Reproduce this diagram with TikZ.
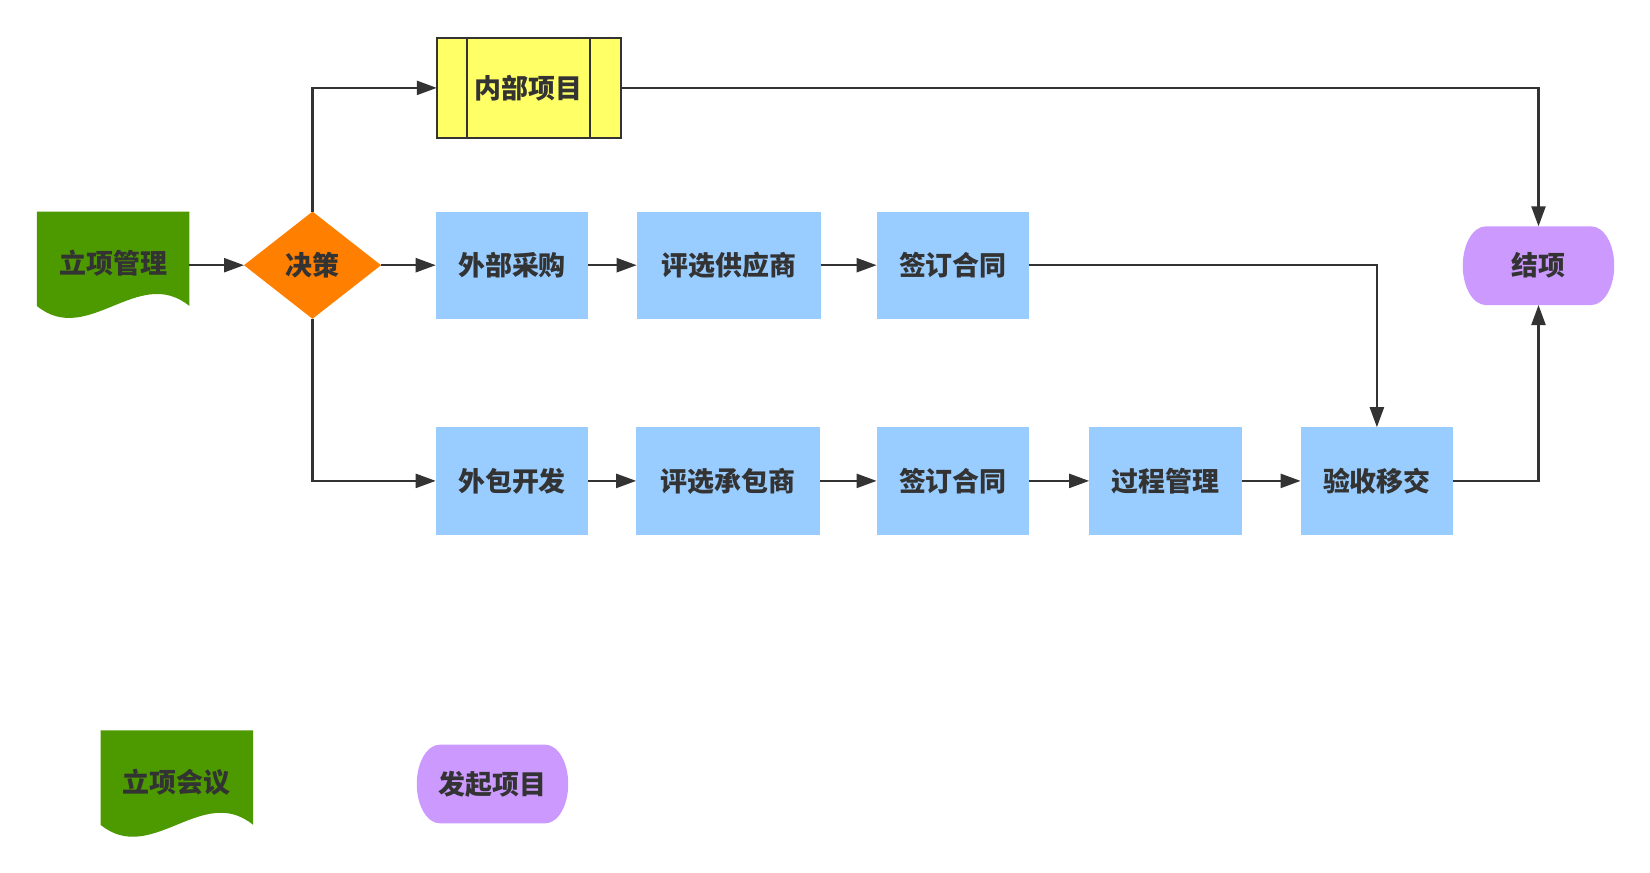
\documentclass[tikz,border=0pt]{standalone}
\usepackage{fontspec}
\newfontfamily\cjk{Noto Sans CJK SC}
\usetikzlibrary{arrows.meta,shapes.geometric,calc,backgrounds}
\definecolor{txt}{HTML}{333333}
\definecolor{docgreen}{HTML}{4D9900}
\definecolor{dorange}{HTML}{FF8000}
\definecolor{lblue}{HTML}{99CCFF}
\definecolor{lyellow}{HTML}{FFFF66}
\definecolor{lpurple}{HTML}{CC99FF}
\definecolor{edgec}{HTML}{333333}
\tikzset{
 base/.style={inner sep=0pt, outer sep=0pt, font=\cjk\bfseries\fontsize{20.2pt}{24pt}\selectfont, text=txt},
 procbox/.style={base, fill=lblue, minimum width=114.4pt, minimum height=80.5pt},
 widebox/.style={procbox, minimum width=138pt},
 docnode/.style={base, minimum width=114.4pt, minimum height=80.5pt},
 decision/.style={base, diamond, fill=dorange, minimum width=102.75pt, minimum height=80.4pt},
 subproc/.style={base, draw=edgec, line width=1.7pt, fill=lyellow, minimum width=138pt, minimum height=75pt},
 termnode/.style={base, minimum width=113.6pt, minimum height=59pt},
 conn/.style={draw=edgec, line width=1.7pt, -{Triangle[length=15pt,width=10.5pt]}},
 plainline/.style={draw=edgec, line width=1.7pt},
}
\newcommand\stadiumfill[2]{%
 \fill[#2] ($(#1.north west)+(23,0)$) -- ($(#1.north east)+(-23,0)$)
   arc[start angle=90,end angle=-90,x radius=17.25pt,y radius=29.5pt]
   -- ($(#1.south west)+(23,0)$)
   arc[start angle=270,end angle=90,x radius=17.25pt,y radius=29.5pt] -- cycle;}
\newcommand\docfill[1]{%
 \fill[docgreen] (#1.north west) -- (#1.north east) -- ($(#1.south east)+(0,-12.9)$)
   .. controls ($(#1.south east)+(-50.9,-54.4)$) and ($(#1.south west)+(50.9,28.6)$) ..
   ($(#1.south west)+(0,-12.9)$) -- cycle;}
\begin{document}
\begin{tikzpicture}[x=0.75pt,y=-0.75pt]
\useasboundingbox (0,0) rectangle (1650,873);
% nodes
\node[docnode] (doc1) at (113.1,265.2) {\raisebox{5.5pt}{立项管理}};
\node[decision] (dia) at (312.5,265.2) {决策};
\node[procbox] (wbcg) at (512,265.2) {外部采购};
\node[widebox] (pxgys) at (728.7,265.2) {评选供应商};
\node[procbox] (qdht1) at (952.9,265.2) {签订合同};
\node[termnode] (jx) at (1538.5,265.7) {结项};
\node[subproc] (nbxm) at (528.8,87.9) {内部项目};
\node[procbox] (wbkf) at (512,480.9) {外包开发};
\node[widebox] (pxcbs) at (728.2,480.9) {评选承包商};
\node[procbox] (qdht2) at (952.9,480.9) {签订合同};
\node[procbox] (gcgl) at (1165.4,480.9) {过程管理};
\node[procbox] (ysyj) at (1376.9,480.9) {验收移交};
\node[docnode] (doc2) at (176.8,784) {\raisebox{5.5pt}{立项会议}};
\node[termnode] (fqxm) at (492.5,784) {发起项目};
% backgrounds of custom shapes
\begin{scope}[on background layer]
 \fill[white] (0,0) rectangle (1650,873);
 \docfill{doc1}
 \docfill{doc2}
 \stadiumfill{jx}{lpurple}
 \stadiumfill{fqxm}{lpurple}
\end{scope}
% inner lines of subprocess
\draw[plainline] ($(nbxm.north west)+(30.5,0)$) -- ($(nbxm.south west)+(30.5,0)$);
\draw[plainline] ($(nbxm.north east)+(-30.5,0)$) -- ($(nbxm.south east)+(-30.5,0)$);
% connectors
\draw[conn] (doc1.east) -- (dia.west);
\draw[conn] (dia.east) -- (wbcg.west);
\draw[conn] (wbcg.east) -- (pxgys.west);
\draw[conn] (pxgys.east) -- (qdht1.west);
\draw[conn] (dia.north) |- (nbxm.west);
\draw[conn] (dia.south) |- (wbkf.west);
\draw[conn] (nbxm.east) -| (jx.north);
\draw[conn] (qdht1.east) -| (ysyj.north);
\draw[conn] (wbkf.east) -- (pxcbs.west);
\draw[conn] (pxcbs.east) -- (qdht2.west);
\draw[conn] (qdht2.east) -- (gcgl.west);
\draw[conn] (gcgl.east) -- (ysyj.west);
\draw[conn] (ysyj.east) -| (jx.south);
\end{tikzpicture}
\end{document}
